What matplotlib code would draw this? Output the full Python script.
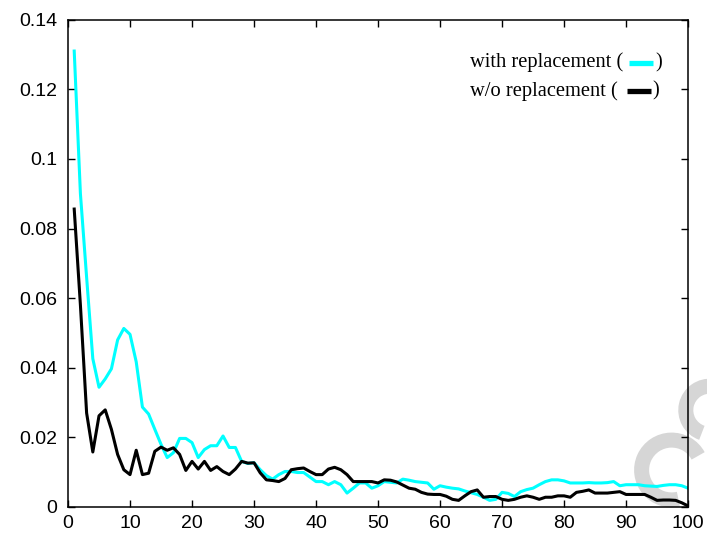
import matplotlib
matplotlib.use("Agg")
import matplotlib.pyplot as plt
from matplotlib.ticker import FuncFormatter
from matplotlib.patches import Arc

# sample index 1..100
x = list(range(1, 101))

with_repl = [
    0.131, 0.090, 0.066, 0.0426, 0.0344, 0.0368, 0.0397, 0.048, 0.0513, 0.0496,
    0.0417, 0.0287, 0.0267, 0.0223, 0.018, 0.0142, 0.0156, 0.0197, 0.0197, 0.0185,
    0.0142, 0.0165, 0.0176, 0.0176, 0.0204, 0.0171, 0.0171, 0.0131, 0.0125, 0.0127,
    0.0107, 0.009, 0.008, 0.0093, 0.0102, 0.0102, 0.0099, 0.0099, 0.0086, 0.0073,
    0.0073, 0.0064, 0.0073, 0.0064, 0.004, 0.0054, 0.0069, 0.0069, 0.0054, 0.0061,
    0.0073, 0.0071, 0.0069, 0.008, 0.0077, 0.0073, 0.0071, 0.0069, 0.0051, 0.0061,
    0.0057, 0.0054, 0.0052, 0.0046, 0.0041, 0.0036, 0.0028, 0.0019, 0.0022, 0.0042,
    0.0039, 0.003, 0.0044, 0.005, 0.0054, 0.0064, 0.0073, 0.0078, 0.0078, 0.0075,
    0.0069, 0.0069, 0.0069, 0.007, 0.0069, 0.0069, 0.007, 0.0073, 0.0061, 0.0064,
    0.0064, 0.0064, 0.0061, 0.006, 0.0059, 0.0062, 0.0064, 0.0064, 0.0061, 0.0054,
]

without_repl = [
    0.0856, 0.058, 0.027, 0.0158, 0.0262, 0.0279, 0.0223, 0.0151, 0.0107, 0.0093,
    0.0163, 0.0093, 0.0097, 0.016, 0.0172, 0.0163, 0.017, 0.0151, 0.0105, 0.0131,
    0.0109, 0.0131, 0.0105, 0.0116, 0.0102, 0.0093, 0.0109, 0.0131, 0.0126, 0.0127,
    0.0098, 0.0078, 0.0076, 0.0073, 0.0082, 0.0107, 0.011, 0.0112, 0.0102, 0.0093,
    0.0093, 0.0109, 0.0114, 0.0107, 0.0093, 0.0073, 0.0073, 0.0073, 0.0073, 0.0069,
    0.0078, 0.0077, 0.0072, 0.0063, 0.0054, 0.0051, 0.0042, 0.0037, 0.0036, 0.0036,
    0.0031, 0.0022, 0.0019, 0.0032, 0.0044, 0.0049, 0.0028, 0.003, 0.003, 0.0022,
    0.0019, 0.0022, 0.0028, 0.0032, 0.0028, 0.0022, 0.0028, 0.0028, 0.0032, 0.0032,
    0.0028, 0.0042, 0.0045, 0.0049, 0.004, 0.004, 0.004, 0.0042, 0.0044, 0.0036,
    0.0036, 0.0036, 0.0036, 0.0028, 0.0019, 0.002, 0.002, 0.0019, 0.0012, 0.0003,
]

xticks = list(range(0, 101, 10))
yticks = [0, 0.02, 0.04, 0.06, 0.08, 0.1, 0.12, 0.14]

fig = plt.figure(figsize=(7.07, 5.39), dpi=100)
ax = fig.add_axes([0.0962, 0.0594, 0.877, 0.904])

# faint watermark in the lower right corner, behind the curves
for cen, w, h, t1, t2 in [((0.950, 0.128), 0.085, 0.111, 35, 280),
                          ((1.004, 0.239), 0.068, 0.089, 85, 255)]:
    ax.add_patch(Arc(cen, w, h, theta1=t1, theta2=t2, transform=fig.transFigure,
                     color="#d6d6d6", lw=10.8, zorder=1, clip_on=False))

ax.plot(x, with_repl, color="#00ffff", lw=2.2, zorder=3)
ax.plot(x, without_repl, color="black", lw=2.2, zorder=4)

ax.set_xlim(0, 100)
ax.set_ylim(0, 0.14)
ax.set_xticks(xticks)
ax.set_yticks(yticks)
ax.yaxis.set_major_formatter(FuncFormatter(lambda v, p: "%g" % v))
ax.tick_params(direction="in", length=5, width=1, top=True, right=True,
               labelsize=14, pad=8)
ax.tick_params(axis="x", pad=6)
for lbl in ax.get_xticklabels() + ax.get_yticklabels():
    lbl.set_fontfamily("Liberation Sans")
for s in ax.spines.values():
    s.set_linewidth(1.1)
    s.set_zorder(5)

# gnuplot-style key: text, then the line sample in brackets
key = [("with replacement (", "#00ffff", 0.912, 0.905, 0.944, 0.947),
       ("w/o replacement (", "black", 0.853, 0.901, 0.940, 0.943)]
for label, col, yy, s0, s1, rb in key:
    ax.text(0.648, yy, label, transform=ax.transAxes, ha="left", va="center",
            fontsize=14.8, family="Liberation Serif")
    ax.plot([s0, s1], [yy, yy], transform=ax.transAxes, color=col,
            lw=3.8, solid_capstyle="butt", clip_on=False)
    ax.text(rb, yy, ")", transform=ax.transAxes, ha="left", va="center",
            fontsize=14.8, family="Liberation Serif")

fig.savefig("out.png", dpi=100)
